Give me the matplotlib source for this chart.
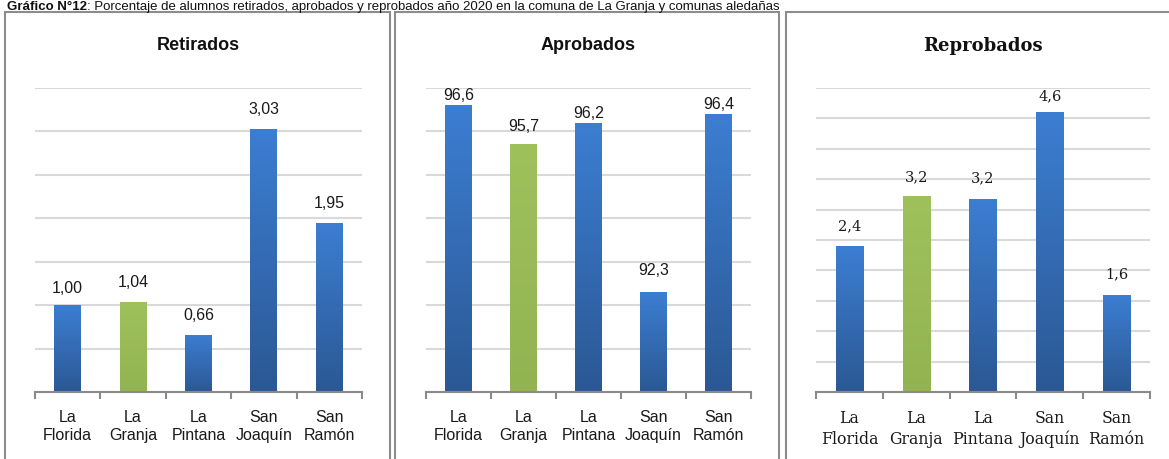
import numpy as np
import matplotlib
matplotlib.use("Agg")
import matplotlib.pyplot as plt
from matplotlib.colors import LinearSegmentedColormap
from matplotlib.patches import Rectangle

# ---------------- data ----------------
categories = ["La\nFlorida", "La\nGranja", "La\nPintana", "San\nJoaquín", "San\nRamón"]
retirados = [1.00, 1.04, 0.66, 3.03, 1.95]
aprobados = [96.6, 95.7, 96.2, 92.3, 96.4]
reprobados = [2.4, 3.22, 3.17, 4.6, 1.6]
highlight = "La\nGranja"

title_bold = "Gráfico N°12"
title_rest = ": Porcentaje de alumnos retirados, aprobados y reprobados año 2020 en la comuna de La Granja y comunas aledañas"

# ---------------- style ----------------
W, H = 1169, 460
SANS = ["Liberation Sans Narrow", "Liberation Sans", "DejaVu Sans"]
SERIF = ["DejaVu Serif Condensed", "DejaVu Serif"]
BLUE_TOP, BLUE_BOT = "#3c7ed2", "#2b5894"
GREEN_TOP, GREEN_BOT = "#9fc15c", "#93b352"
GRID = "#d9d9d9"
AXIS = "#8a8a8a"
BORDER = "#8c8c8c"

fig = plt.figure(figsize=(W / 100, H / 100), dpi=100)

def px_x(x):
    return x / W

def px_y(y):
    return 1 - y / H

# panel borders (figure pixel coordinates)
for (x0, x1) in [(5, 390), (395, 779), (786, 1180)]:
    fig.patches.append(Rectangle((px_x(x0), px_y(480)), px_x(x1 - x0), (480 - 13) / H,
                                 transform=fig.transFigure, fill=False,
                                 edgecolor=BORDER, linewidth=1.5, zorder=0))

panels = [
    dict(title="Retirados", values=retirados, ylim=(0, 3.5), step=0.5, fmt="{:.2f}",
         x0=35, x1=362, fam=SANS, tsize=13, lsize=11.5, ksize=11.5, tweight="bold",
         lspacing=1.25, pad=12, offs=[18, 20, 20, 20, 20]),
    dict(title="Aprobados", values=aprobados, ylim=(90, 97), step=1.0, fmt="{:.1f}",
         x0=426, x1=751, fam=SANS, tsize=13, lsize=11.5, ksize=11.5, tweight="bold",
         lspacing=1.25, pad=12, offs=[11, 19, 10, 23, 11]),
    dict(title="Reprobados", values=reprobados, ylim=(0, 5.0), step=0.5, fmt="{:.1f}",
         x0=816, x1=1150, fam=SERIF, tsize=13, lsize=10.5, ksize=11.3, tweight="bold",
         lspacing=1.25, pad=12.5, offs=[21, 20, 22, 17, 21]),
]

y_top, y_base = 89, 393

for p in panels:
    ax = fig.add_axes([px_x(p["x0"]), px_y(y_base), px_x(p["x1"] - p["x0"]), (y_base - y_top) / H])
    x = np.arange(len(categories))
    cols = [GREEN_TOP if c == highlight else BLUE_TOP for c in categories]
    bars = ax.bar(x, p["values"], width=0.41, color=cols, zorder=3)
    lo, hi = p["ylim"]
    ax.set_xlim(-0.5, len(categories) - 0.5)
    ax.set_ylim(lo, hi)

    # gradient fill for bars
    grad = np.linspace(0, 1, 256).reshape(-1, 1)
    for b, c in zip(bars, categories):
        top, bot = (GREEN_TOP, GREEN_BOT) if c == highlight else (BLUE_TOP, BLUE_BOT)
        cmap = LinearSegmentedColormap.from_list("g", [bot, top])
        bx, bw = b.get_x(), b.get_width()
        y0 = max(b.get_y(), lo)
        y1 = b.get_y() + b.get_height()
        im = ax.imshow(grad, extent=(bx, bx + bw, y0, y1), origin="lower", cmap=cmap,
                       aspect="auto", zorder=3.5, interpolation="bilinear")
        im.set_clip_path(b)
    ax.set_xlim(-0.5, len(categories) - 0.5)
    ax.set_ylim(lo, hi)

    # gridlines
    ax.set_yticks(np.arange(lo, hi + 1e-9, p["step"]))
    ax.yaxis.grid(True, color=GRID, linewidth=1.5, zorder=0)
    ax.tick_params(axis="y", length=0, labelleft=False)

    for s in ["top", "right", "left"]:
        ax.spines[s].set_visible(False)
    ax.spines["bottom"].set_color(AXIS)
    ax.spines["bottom"].set_linewidth(1.5)
    ax.spines["bottom"].set_zorder(4)

    ax.set_xticks(x)
    ax.set_xticklabels(categories, fontfamily=p["fam"], fontsize=p["ksize"],
                       linespacing=p["lspacing"], color="#1a1a1a")
    ax.set_xticks(np.arange(-0.5, len(categories)), minor=True)
    ax.tick_params(axis="x", which="major", length=0, pad=p["pad"])
    ax.tick_params(axis="x", which="minor", length=5, width=1.5, color=AXIS, direction="out")

    # data labels
    for b, v, off in zip(bars, p["values"], p["offs"]):
        ax.annotate(p["fmt"].format(v).replace(".", ","),
                    (b.get_x() + b.get_width() / 2, b.get_y() + b.get_height()),
                    xytext=(0, off * 0.72), textcoords="offset points",
                    ha="center", va="center", fontfamily=p["fam"], fontsize=p["lsize"],
                    color="#1a1a1a", zorder=5)

    ax.text(0.5, 1 + 43 / (y_base - y_top), p["title"], transform=ax.transAxes,
            ha="center", va="center", fontfamily=p["fam"], fontsize=p["tsize"],
            fontweight=p["tweight"], color="#111111")

# figure title
t1 = fig.text(px_x(7), px_y(10), title_bold, ha="left", va="baseline",
              fontfamily=SANS, fontsize=9.5, fontweight="bold", color="#111111")
fig.canvas.draw()
bb = t1.get_window_extent(fig.canvas.get_renderer())
fig.text(bb.x1 / W, px_y(10), title_rest, ha="left", va="baseline",
         fontfamily=SANS, fontsize=9.5, color="#111111")

fig.savefig("out.png", dpi=100)
